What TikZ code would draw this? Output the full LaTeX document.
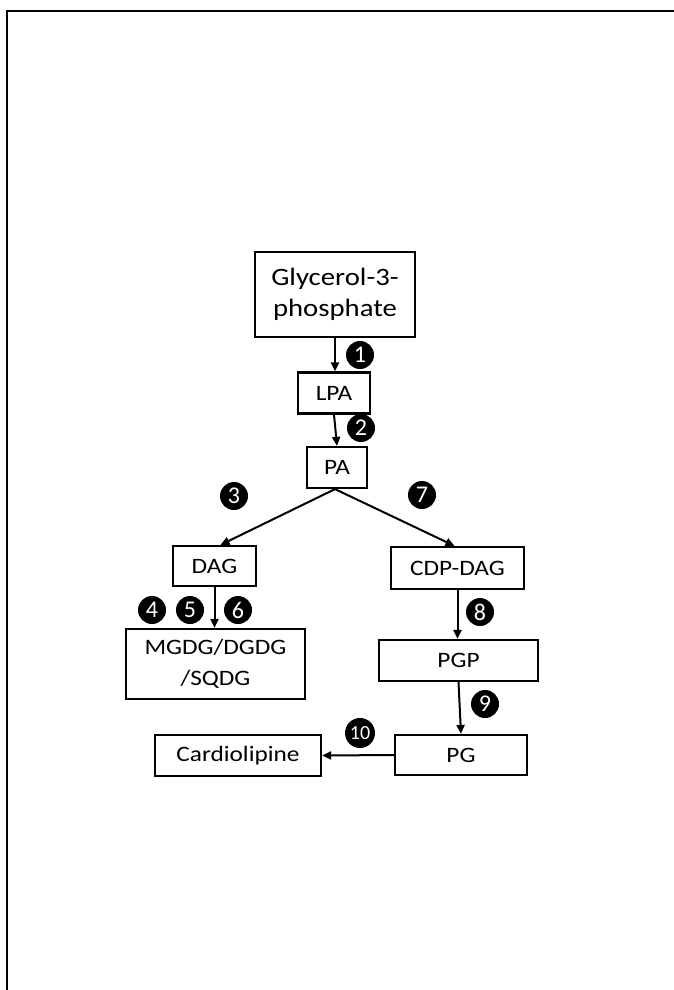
\documentclass[tikz,border=0pt]{standalone}
\usepackage{fontspec}
\setmainfont{Carlito}[FakeStretch=1.15]
\newfontfamily\badgefont{Carlito}
\usetikzlibrary{arrows.meta,calc}
\tikzset{
  box/.style={draw=black, line width=2.2pt, fill=white, inner sep=0pt, align=center, font=\fontsize{22}{26}\selectfont},
  conn/.style={line width=2pt, -{Triangle[length=9pt,width=8pt]}},
  badge/.style={circle, fill=black, inner sep=0pt, minimum size=28pt, text=white, font=\badgefont\fontsize{24}{24}\selectfont},
  badgesmall/.style={badge, minimum size=30pt, font=\badgefont\fontsize{20}{20}\selectfont},
}
\begin{document}
\begin{tikzpicture}[x=1pt,y=-1pt]
\useasboundingbox (0,0) rectangle (674,990);
\draw[line width=1.5pt] (674,11) -- (7,11) -- (7,990);
% nodes
\node[box, minimum width=160pt, minimum height=85pt, font=\fontsize{25}{31}\selectfont] (g3p) at (335,294.5) {Glycerol-3-\\phosphate};
\node[box, minimum width=72pt, minimum height=41pt] (lpa) at (334,393) {LPA};
\node[box, minimum width=60pt, minimum height=41pt] (pa) at (337,467.5) {PA};
\node[box, minimum width=83pt, minimum height=40pt] (dag) at (214.5,566) {DAG};
\node[box, minimum width=133pt, minimum height=42pt] (cdp) at (457.5,568) {CDP-DAG};
\node[box, minimum width=179pt, minimum height=70pt, font=\fontsize{22}{31}\selectfont] (mgdg) at (215.5,664) {MGDG/DGDG\\/SQDG};
\node[box, minimum width=159pt, minimum height=41pt] (pgp) at (458.5,660.5) {PGP};
\node[box, minimum width=132pt, minimum height=40pt] (pg) at (461,755) {PG};
\node[box, minimum width=166pt, minimum height=41pt] (card) at (238,755.5) {Cardiolipine};
% connectors
\draw[conn] (g3p.south) -- (g3p.south |- lpa.north);
\draw[conn] (lpa.south) -- (pa.north);
\draw[conn] ([xshift=-2pt]pa.south) -- ([xshift=6pt]dag.north);
\draw[conn] ([xshift=-2pt]pa.south) -- ([xshift=-3pt]cdp.north);
\draw[conn] (dag.south) -- (dag.south |- mgdg.north);
\draw[conn] (cdp.south) -- (cdp.south |- pgp.north);
\draw[conn] (pgp.south) -- (pg.north);
\draw[conn] (pg.west) -- (card.east);
% badges
\node[badge] (b1) at (360,355) {1};
\node[badge] (b2) at (361,428) {2};
\node[badge] (b3) at (234,496) {3};
\node[badge] (b7) at (422,495) {7};
\node[badge] (b4) at (152,610) {4};
\node[badge] (b5) at (190,610) {5};
\node[badge] (b6) at (238,610) {6};
\node[badge] (b8) at (480,612) {8};
\node[badge] (b9) at (485,704) {9};
\node[badgesmall] (b10) at (360,733) {10};
\end{tikzpicture}
\end{document}
